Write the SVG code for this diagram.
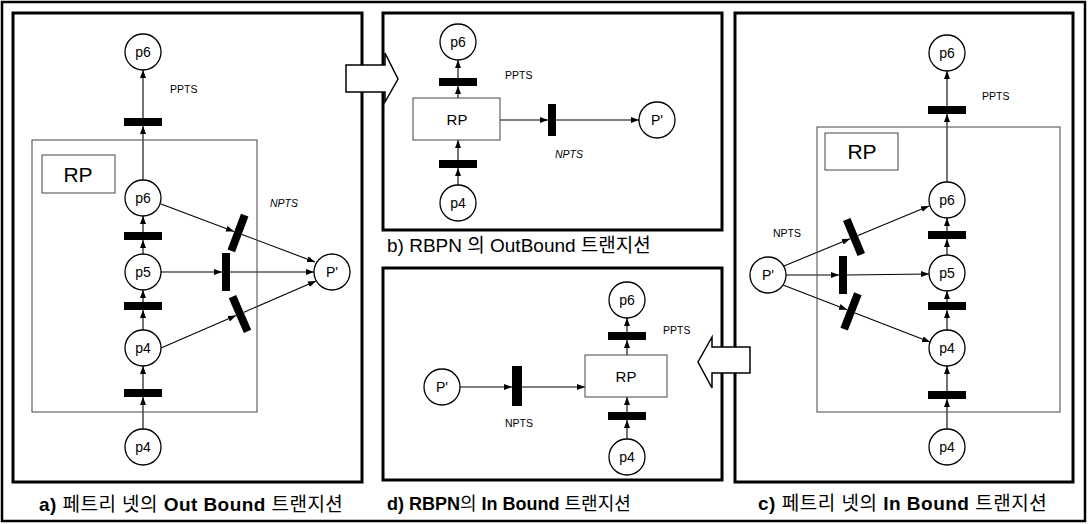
<svg xmlns="http://www.w3.org/2000/svg" width="1088" height="524" viewBox="0 0 1088 524">
<style>
.frame{fill:none;stroke:#000;stroke-width:2.5}
.panel{fill:none;stroke:#000;stroke-width:3}
.rpbox{fill:none;stroke:#444;stroke-width:1}
.place{fill:#fff;stroke:#000;stroke-width:1.3}
.bar{fill:#000}
.arc{fill:none;stroke:#000;stroke-width:1.1;marker-end:url(#ah)}
.lbl{font-family:"Liberation Sans",Arial,sans-serif;font-size:14px;fill:#000;text-anchor:middle}
.tag{font-family:"Liberation Sans",Arial,sans-serif;font-size:10.5px;fill:#000}
.rp{font-family:"Liberation Sans",Arial,sans-serif;fill:#000;text-anchor:middle}
.cap{font-family:"Liberation Sans","Noto Sans CJK KR",sans-serif;font-size:19px;font-weight:bold;fill:#000}
.capn{font-family:"Liberation Sans","Noto Sans CJK KR",sans-serif;font-size:19px;font-weight:normal;fill:#000}
.ko{font-weight:normal}
.block{fill:#fff;stroke:#000;stroke-width:1.5}
</style>
<defs>
<marker id="ah" viewBox="0 0 8 6" refX="8" refY="3" markerWidth="8" markerHeight="6" markerUnits="userSpaceOnUse" orient="auto"><path d="M0,0 L8,3 L0,6 z" fill="#000"/></marker>
</defs>
<rect class="frame" x="2" y="2" width="1083" height="519"/>
<g id="panel-a-frame"><rect class="panel" x="13" y="13" width="349" height="469"/></g>
<g id="panel-b-frame"><rect class="panel" x="383" y="13" width="339" height="217"/></g>
<g id="panel-d-frame"><rect class="panel" x="383" y="268" width="339" height="212"/></g>
<g id="panel-c-frame"><rect class="panel" x="735" y="13" width="338" height="469"/></g>

<g id="block-arrow-right"><path class="block" d="M346,65 L385,65 L385,53 L398,79 L385,102 L385,92 L346,92 Z"/></g>
<g id="block-arrow-left"><path class="block" d="M750,347 L712,347 L712,337 L698,362 L712,388 L712,373 L750,373 Z"/></g>

<g id="connectors">
<!-- panel a -->
<line class="arc" x1="143" y1="429" x2="143" y2="397"/>
<line class="arc" x1="143" y1="389" x2="143" y2="366"/>
<line class="arc" x1="143" y1="330" x2="143" y2="310"/>
<line class="arc" x1="143" y1="302" x2="143" y2="290"/>
<line class="arc" x1="143" y1="254" x2="143" y2="240"/>
<line class="arc" x1="143" y1="232" x2="143" y2="216"/>
<line class="arc" x1="143" y1="180" x2="143" y2="126"/>
<line class="arc" x1="143" y1="118" x2="143" y2="70"/>
<line class="arc" x1="161" y1="204" x2="234" y2="231.5"/>
<line class="arc" x1="242" y1="234.5" x2="315" y2="262"/>
<line class="arc" x1="161" y1="272" x2="222" y2="272"/>
<line class="arc" x1="230" y1="272" x2="314" y2="272"/>
<line class="arc" x1="161" y1="348" x2="236" y2="315.6"/>
<line class="arc" x1="244" y1="312.2" x2="316" y2="281"/>
<!-- panel b -->
<line class="arc" x1="458" y1="98" x2="458" y2="86"/>
<line class="arc" x1="458" y1="78" x2="458" y2="60"/>
<line class="arc" x1="458" y1="185" x2="458" y2="168"/>
<line class="arc" x1="458" y1="160" x2="458" y2="140"/>
<line class="arc" x1="500" y1="120" x2="548" y2="120"/>
<line class="arc" x1="556" y1="120" x2="639" y2="120"/>
<!-- panel d -->
<line class="arc" x1="460" y1="387" x2="512" y2="387"/>
<line class="arc" x1="522" y1="387" x2="585" y2="387"/>
<line class="arc" x1="627" y1="355" x2="627" y2="340"/>
<line class="arc" x1="627" y1="332" x2="627" y2="318"/>
<line class="arc" x1="627" y1="439" x2="627" y2="420"/>
<line class="arc" x1="627" y1="412" x2="627" y2="397"/>
<!-- panel c -->
<line class="arc" x1="947" y1="429" x2="947" y2="399"/>
<line class="arc" x1="947" y1="391" x2="947" y2="366"/>
<line class="arc" x1="947" y1="330" x2="947" y2="310"/>
<line class="arc" x1="947" y1="302" x2="947" y2="291"/>
<line class="arc" x1="947" y1="255" x2="947" y2="239"/>
<line class="arc" x1="947" y1="231" x2="947" y2="218"/>
<line class="arc" x1="947" y1="182" x2="947" y2="114"/>
<line class="arc" x1="947" y1="106" x2="947" y2="71"/>
<line class="arc" x1="784" y1="266" x2="850" y2="238.7"/>
<line class="arc" x1="858" y1="235.4" x2="929" y2="206"/>
<line class="arc" x1="786" y1="275" x2="839" y2="275"/>
<line class="arc" x1="847" y1="275" x2="929" y2="274"/>
<line class="arc" x1="783" y1="285" x2="847" y2="309.8"/>
<line class="arc" x1="855" y1="313" x2="930" y2="342"/>
</g>

<!-- Panel a -->
<g id="a-rp-region"><rect class="rpbox" x="32" y="140" width="225" height="272"/></g>
<g id="a-rp-label"><rect class="rpbox" x="42" y="155" width="73" height="38"/><text class="rp" x="78" y="182" font-size="21">RP</text></g>
<g id="a-p6-top"><circle class="place" cx="143" cy="52" r="18"/><text class="lbl" x="143" y="57">p6</text></g>
<g id="a-t-ppts"><rect class="bar" x="124" y="118" width="38" height="8"/></g>
<g id="a-p6"><circle class="place" cx="143" cy="198" r="18"/><text class="lbl" x="143" y="203">p6</text></g>
<g id="a-t-p5p6"><rect class="bar" x="124" y="232" width="38" height="8"/></g>
<g id="a-p5"><circle class="place" cx="143" cy="272" r="18"/><text class="lbl" x="143" y="277">p5</text></g>
<g id="a-t-p4p5"><rect class="bar" x="124" y="302" width="38" height="8"/></g>
<g id="a-p4"><circle class="place" cx="143" cy="348" r="18"/><text class="lbl" x="143" y="353">p4</text></g>
<g id="a-t-in"><rect class="bar" x="124" y="389" width="38" height="8"/></g>
<g id="a-p4-bottom"><circle class="place" cx="143" cy="447" r="18"/><text class="lbl" x="143" y="452">p4</text></g>
<g id="a-pprime"><circle class="place" cx="332" cy="272" r="18"/><text class="lbl" x="332" y="277">P'</text></g>
<g id="a-t-n1"><rect class="bar" x="-4" y="-19" width="8" height="38" transform="translate(238,233) rotate(20.6)"/></g>
<g id="a-t-n2"><rect class="bar" x="222" y="253" width="8" height="38"/></g>
<g id="a-t-n3"><rect class="bar" x="-4" y="-19" width="8" height="38" transform="translate(240,314) rotate(-23.4)"/></g>
<text class="tag" x="170" y="93">PPTS</text>
<text class="tag" x="270" y="207" font-style="italic">NPTS</text>

<!-- Panel b -->
<g id="b-p6"><circle class="place" cx="458" cy="42" r="18"/><text class="lbl" x="458" y="47">p6</text></g>
<g id="b-t-ppts"><rect class="bar" x="439" y="78" width="38" height="8"/></g>
<g id="b-rp"><rect class="rpbox" x="413" y="98" width="87" height="42"/><text class="rp" x="457" y="125" font-size="15">RP</text></g>
<g id="b-t-in"><rect class="bar" x="439" y="160" width="38" height="8"/></g>
<g id="b-p4"><circle class="place" cx="458" cy="203" r="18"/><text class="lbl" x="458" y="208">p4</text></g>
<g id="b-t-npts"><rect class="bar" x="548" y="104" width="8" height="32"/></g>
<g id="b-pprime"><circle class="place" cx="657" cy="120" r="18"/><text class="lbl" x="657" y="125">P'</text></g>
<text class="tag" x="505" y="79">PPTS</text>
<text class="tag" x="555" y="158" font-style="italic">NPTS</text>

<!-- Panel d -->
<g id="d-pprime"><circle class="place" cx="442" cy="387" r="18"/><text class="lbl" x="442" y="392">P'</text></g>
<g id="d-t-npts"><rect class="bar" x="512" y="366" width="10" height="40"/></g>
<g id="d-rp"><rect class="rpbox" x="585" y="355" width="82" height="42"/><text class="rp" x="626" y="382" font-size="15">RP</text></g>
<g id="d-p6"><circle class="place" cx="627" cy="300" r="18"/><text class="lbl" x="627" y="305">p6</text></g>
<g id="d-t-ppts"><rect class="bar" x="608" y="332" width="38" height="8"/></g>
<g id="d-t-in"><rect class="bar" x="608" y="412" width="38" height="8"/></g>
<g id="d-p4"><circle class="place" cx="627" cy="457" r="18"/><text class="lbl" x="627" y="462">p4</text></g>
<text class="tag" x="663" y="334">PPTS</text>
<text class="tag" x="505" y="427">NPTS</text>

<!-- Panel c -->
<g id="c-rp-region"><rect class="rpbox" x="817" y="127" width="243" height="285"/></g>
<g id="c-rp-label"><rect class="rpbox" x="825" y="133" width="73" height="37"/><text class="rp" x="862" y="159" font-size="21">RP</text></g>
<g id="c-p6-top"><circle class="place" cx="947" cy="53" r="18"/><text class="lbl" x="947" y="58">p6</text></g>
<g id="c-t-ppts"><rect class="bar" x="928" y="106" width="38" height="8"/></g>
<g id="c-p6"><circle class="place" cx="947" cy="200" r="18"/><text class="lbl" x="947" y="205">p6</text></g>
<g id="c-t-p5p6"><rect class="bar" x="928" y="231" width="38" height="8"/></g>
<g id="c-p5"><circle class="place" cx="947" cy="273" r="18"/><text class="lbl" x="947" y="278">p5</text></g>
<g id="c-t-p4p5"><rect class="bar" x="928" y="302" width="38" height="8"/></g>
<g id="c-p4"><circle class="place" cx="947" cy="348" r="18"/><text class="lbl" x="947" y="353">p4</text></g>
<g id="c-t-in"><rect class="bar" x="928" y="391" width="38" height="8"/></g>
<g id="c-p4-bottom"><circle class="place" cx="947" cy="447" r="18"/><text class="lbl" x="947" y="452">p4</text></g>
<g id="c-pprime"><circle class="place" cx="768" cy="275" r="18"/><text class="lbl" x="768" y="280">P'</text></g>
<g id="c-t-n1"><rect class="bar" x="-4" y="-19" width="8" height="38" transform="translate(854,237) rotate(-22.5)"/></g>
<g id="c-t-n2"><rect class="bar" x="839" y="256" width="8" height="38"/></g>
<g id="c-t-n3"><rect class="bar" x="-4" y="-19" width="8" height="38" transform="translate(851,311.4) rotate(21.2)"/></g>
<text class="tag" x="982" y="100">PPTS</text>
<text class="tag" x="773" y="237">NPTS</text>

<!-- Captions -->
<text class="cap" x="39" y="511" style="letter-spacing:0.45px">a) <tspan class="ko">페트리 넷의</tspan> Out Bound <tspan class="ko">트랜지션</tspan></text>
<text class="capn" x="387" y="252">b) RBPN <tspan class="ko">의</tspan> OutBound <tspan class="ko">트랜지션</tspan></text>
<text class="cap" x="387" y="510" style="font-size:18px">d) RBPN<tspan class="ko">의</tspan> In Bound <tspan class="ko">트랜지션</tspan></text>
<text class="cap" x="758" y="510" style="letter-spacing:0.5px">c) <tspan class="ko">페트리 넷의</tspan> In Bound <tspan class="ko">트랜지션</tspan></text>
</svg>
